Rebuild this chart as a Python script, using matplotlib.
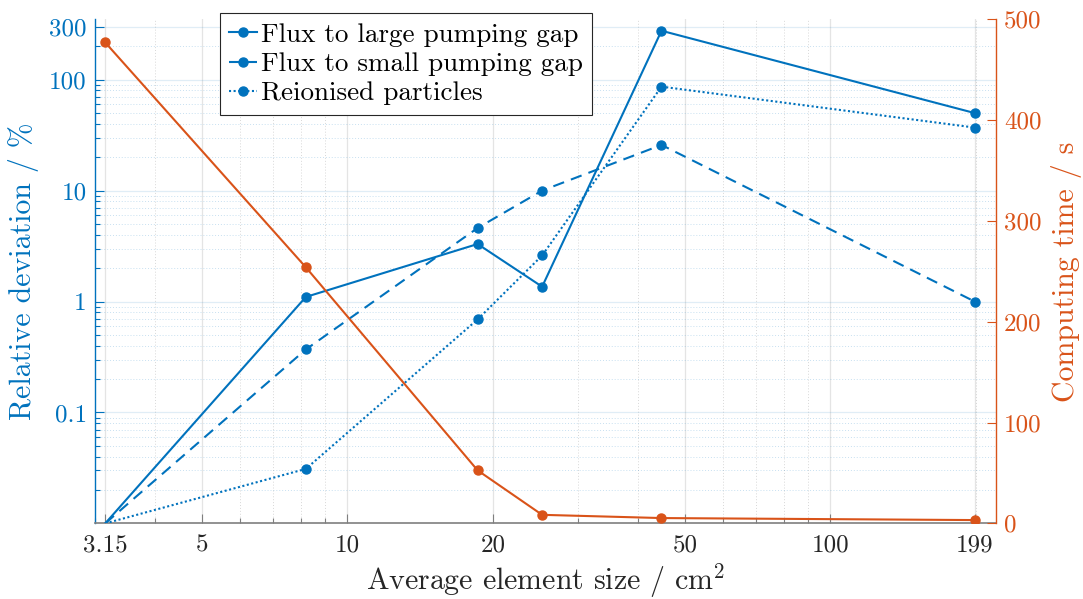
import matplotlib
matplotlib.use("Agg")
import matplotlib.pyplot as plt
from matplotlib.lines import Line2D
from matplotlib.ticker import FixedLocator, FixedFormatter, LogLocator, NullFormatter, NullLocator

plt.rcParams['font.family'] = ['cmr10', 'DejaVu Serif']
plt.rcParams['mathtext.fontset'] = 'cm'
plt.rcParams['axes.formatter.use_mathtext'] = True
plt.rcParams['axes.unicode_minus'] = False

# ---- data ----
element_size = [3.15, 8.2, 18.6, 25.3, 44.7, 199]
flux_large = [0.01, 1.1, 3.3, 1.36, 276, 50]
flux_small = [0.01, 0.37, 4.6, 10.0, 25.8, 1.0]
reionised = [0.01, 0.031, 0.69, 2.6, 86.5, 37]
computing_time = [477, 254, 52.6, 8.5, 5.3, 3.3]

x_ticks = [3.15, 5, 10, 20, 50, 100, 199]
x_tick_labels = ['3.15', '5', '10', '20', '50', '100', '199']
y_ticks = [0.1, 1, 10, 100, 300]
y_tick_labels = ['0.1', '1', '10', '100', '300']
y2_ticks = [0, 100, 200, 300, 400, 500]
y2_tick_labels = ['0', '100', '200', '300', '400', '500']

series = [
    ('Flux to large pumping gap', flux_large, '-'),
    ('Flux to small pumping gap', flux_small, (0, (5.5, 3.5))),
    ('Reionised particles', reionised, (0, (1, 1.2))),
]

BLUE = '#0072BD'
ORANGE = '#D95319'
GRAYAX = '#7f7f7f'
TXT = '#262626'

fig = plt.figure(figsize=(10.83, 5.99), dpi=100)
L, R, T, B = 95, 995.7, 19.3, 523.4
ax = fig.add_axes([L / 1083, 1 - B / 599, (R - L) / 1083, (B - T) / 599])
ax2 = ax.twinx()

ax.set_xscale('log')
ax.set_yscale('log')
ax.set_xlim(3, 220)
ax.set_ylim(0.01, 350)
ax2.set_ylim(0, 500)

# grid
ax.set_axisbelow(True)
ax.xaxis.grid(True, which='major', color='#262626', alpha=0.12, lw=0.9)
ax.xaxis.grid(True, which='minor', color='#262626', alpha=0.18, lw=0.7, ls=(0, (1, 2)))
ax.yaxis.grid(True, which='major', color=BLUE, alpha=0.12, lw=0.9)
ax.yaxis.grid(True, which='minor', color=BLUE, alpha=0.22, lw=0.7, ls=(0, (1, 2)))

handles = []
for label, vals, ls in series:
    ax.plot(element_size, vals, color=BLUE, ls=ls, lw=1.5, zorder=3)
    ax.plot(element_size[1:], vals[1:], color=BLUE, ls='none', marker='o', ms=6.5, zorder=4)
    handles.append(Line2D([], [], color=BLUE, ls=ls, lw=1.5, marker='o', ms=6.5, label=label))

ax2.plot(element_size, computing_time, color=ORANGE, lw=1.5, marker='o', ms=6.5, zorder=3)

# ticks
ax.xaxis.set_major_locator(FixedLocator(x_ticks))
ax.xaxis.set_major_formatter(FixedFormatter(x_tick_labels))
ax.xaxis.set_minor_locator(LogLocator(base=10, subs=[2, 3, 4, 6, 7, 8, 9]))
ax.xaxis.set_minor_formatter(NullFormatter())
ax.yaxis.set_major_locator(FixedLocator(y_ticks))
ax.yaxis.set_major_formatter(FixedFormatter(y_tick_labels))
ax.yaxis.set_minor_locator(LogLocator(base=10, subs=[2, 3, 4, 5, 6, 7, 8, 9]))
ax.yaxis.set_minor_formatter(NullFormatter())
ax2.yaxis.set_major_locator(FixedLocator(y2_ticks))
ax2.yaxis.set_major_formatter(FixedFormatter(y2_tick_labels))
ax2.yaxis.set_minor_locator(NullLocator())

ax.tick_params(axis='x', which='both', direction='in', colors=GRAYAX, labelcolor=TXT,
               labelsize=18, pad=8, top=False)
ax.tick_params(axis='x', which='major', length=6.5, width=0.8)
ax.tick_params(axis='x', which='minor', length=3.3, width=0.8)
ax.tick_params(axis='y', which='both', direction='in', colors=BLUE, labelcolor=BLUE,
               labelsize=18, pad=6, right=False)
ax.tick_params(axis='y', which='major', length=6.5, width=0.8)
ax.tick_params(axis='y', which='minor', length=3.3, width=0.8)
ax2.tick_params(axis='y', which='major', direction='in', colors=ORANGE, labelcolor=ORANGE,
                labelsize=18, length=6.5, width=0.8, pad=6)

for s in ['top', 'right']:
    ax.spines[s].set_visible(False)
ax.spines['left'].set_color(BLUE)
ax.spines['bottom'].set_color(GRAYAX)
ax.spines['left'].set_linewidth(1.0)
ax.spines['bottom'].set_linewidth(1.2)
for s in ['top', 'left', 'bottom']:
    ax2.spines[s].set_visible(False)
ax2.spines['right'].set_color(ORANGE)
ax2.spines['right'].set_linewidth(1.0)

ax.set_xlabel('Average element size / cm$^2$', fontsize=21.5, color=TXT, labelpad=3)
ax.set_ylabel('Relative deviation / %', fontsize=21.5, color=BLUE, labelpad=7)
ax2.set_ylabel('Computing time / s', fontsize=21.5, color=ORANGE, labelpad=7)

leg = ax2.legend(handles=handles, loc='upper left',
                 bbox_to_anchor=(220 / 1083, 1 - 13.3 / 599), bbox_transform=fig.transFigure,
                 borderaxespad=0, fontsize=19.5, frameon=True, fancybox=False,
                 edgecolor='#262626', framealpha=1, handlelength=1.0, handletextpad=0.15,
                 borderpad=0.35, labelspacing=0.2)
leg.get_frame().set_linewidth(0.8)
leg.set_zorder(10)

fig.savefig('out.png', dpi=100)
